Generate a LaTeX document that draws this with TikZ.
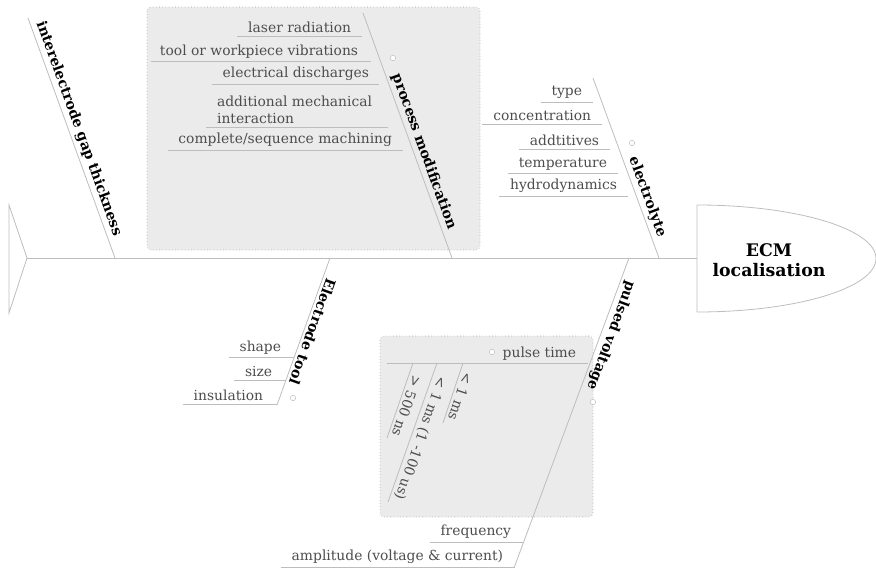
\documentclass[tikz,border=0pt]{standalone}
\usepackage{fontspec}
\setmainfont{DejaVu Serif}
\usetikzlibrary{calc}
\definecolor{linegray}{HTML}{BDBDBD}
\definecolor{textgray}{HTML}{4D4D4D}
\definecolor{boxfill}{HTML}{EBEBEB}
\definecolor{boxline}{HTML}{9A9A9A}
\begin{document}
\begin{tikzpicture}[x=0.75pt,y=-0.75pt,
  bone/.style={draw=linegray, line width=0.6pt},
  mainlbl/.style={font=\bfseries\fontsize{10.6}{12}\selectfont, text=black, inner sep=2pt},
  sublbl/.style={font=\fontsize{10.4}{13.4}\selectfont, text=textgray, inner sep=2pt, anchor=south east},
  pin/.style={circle, draw=linegray, fill=white, inner sep=0pt, minimum size=4pt},
  group/.style={draw=boxline, dotted, fill=boxfill, rounded corners=3pt},
]
\useasboundingbox (0,0) rectangle (876,568);

% group boxes
\draw[group] (147,7) rectangle (480,250);
\draw[group] (380,336) rectangle (593,517);

% tail
\coordinate (t1) at (9,205);
\coordinate (t2) at (9,313);
\coordinate (tail) at (27,258);
\draw[bone] (t1) -- (tail) -- (t2) -- cycle;

% head
\coordinate (h) at (697,258);
\coordinate (htop) at (697,205);
\coordinate (hbot) at (697,312);
\draw[bone] (hbot) -- (htop) arc[start angle=-90, end angle=90, x radius=179, y radius=53.5];
\node[font=\bfseries\fontsize{13}{15}\selectfont, align=center, text=black] (ecm) at (769,260) {ECM\\localisation};

% spine
\draw[bone] (tail) -- (h);

% main bones
\coordinate (ig1) at (28,18);   \coordinate (ig0) at (115,258);
\coordinate (pm1) at (363,13);  \coordinate (pm0) at (452,258);
\coordinate (el1) at (593,78);  \coordinate (el0) at (659,258);
\coordinate (et0) at (330,258); \coordinate (et1) at (277,405);
\coordinate (pv0) at (629,258); \coordinate (pv1) at (514,568);

\draw[bone] (ig1) -- (ig0) node[mainlbl, pos=0.475, sloped, above] (igl) {interelectrode gap thickness};
\draw[bone] (pm1) -- (pm0) node[mainlbl, pos=0.58, sloped, above] (pml) {process modification};
\draw[bone] (el1) -- (el0) node[mainlbl, pos=0.68, sloped, above] (ell) {electrolyte};
\draw[bone] (et0) -- (et1) node[mainlbl, pos=0.48, sloped, allow upside down, above] (etl) {Electrode tool};
\draw[bone] (pv0) -- (pv1) node[mainlbl, pos=0.24, sloped, allow upside down, above] (pvl) {pulsed voltage};

% pins
\node[pin] (pmpin) at (393,58) {};
\node[pin] (elpin) at (632,143) {};
\node[pin] (etpin) at (293,398) {};
\node[pin] (pvpin) at (593,402) {};
\node[pin] (ptpin) at (492,352) {};

% process modification causes
\coordinate (pa) at (362,36);
\coordinate (pb) at (371,61);
\coordinate (pc) at (379,84);
\coordinate (pd) at (388,127);
\coordinate (pe) at (403,150);
\node[sublbl] (pal) at ($(pa)+(-8,0)$) {laser radiation};
\node[sublbl] (pbl) at ($(pb)+(-10,0)$) {tool or workpiece vibrations};
\node[sublbl] (pcl) at ($(pc)+(-7,0)$) {electrical discharges};
\node[sublbl, align=left] (pdl) at ($(pd)+(-13,0)$) {additional mechanical\\interaction};
\node[sublbl] (pel) at ($(pe)+(-8,0)$) {complete/sequence machining};
\draw[bone] ($(pal.south west)+(-8,0)$) -- (pa);
\draw[bone] ($(pbl.south west)+(-6,0)$) -- (pb);
\draw[bone] ($(pcl.south west)+(-8,0)$) -- (pc);
\draw[bone] ($(pdl.south west)+(-8,0)$) -- (pd);
\draw[bone] ($(pel.south west)+(-8,0)$) -- (pe);

% electrolyte causes
\coordinate (ea) at (593,102);
\coordinate (eb) at (602,124);
\coordinate (ec) at (610,149);
\coordinate (ed) at (618,173);
\coordinate (ee) at (628,196);
\node[sublbl] (eal) at ($(ea)+(-8,0)$) {type};
\node[sublbl] (ebl) at ($(eb)+(-8,0)$) {concentration};
\node[sublbl] (ecl) at ($(ec)+(-8,0)$) {addtitives};
\node[sublbl] (edl) at ($(ed)+(-8,0)$) {temperature};
\node[sublbl] (eel) at ($(ee)+(-8,0)$) {hydrodynamics};
\draw[bone] ($(eal.south west)+(-8,0)$) -- (ea);
\draw[bone] ($(ebl.south west)+(-8,0)$) -- (eb);
\draw[bone] ($(ecl.south west)+(-8,0)$) -- (ec);
\draw[bone] ($(edl.south west)+(-8,0)$) -- (ed);
\draw[bone] ($(eel.south west)+(-8,0)$) -- (ee);

% electrode tool causes
\coordinate (ta) at (294,357);
\coordinate (tb) at (286,380);
\coordinate (tc) at (277,404);
\node[sublbl] (tal) at ($(ta)+(-10,0)$) {shape};
\node[sublbl] (tbl) at ($(tb)+(-11,0)$) {size};
\node[sublbl] (tcl) at ($(tc)+(-11,0)$) {insulation};
\draw[bone] ($(tal.south west)+(-8,0)$) -- (ta);
\draw[bone] ($(tbl.south west)+(-8,0)$) -- (tb);
\draw[bone] ($(tcl.south west)+(-8,0)$) -- (tc);

% pulsed voltage causes
\coordinate (va) at (523,542);
\coordinate (vb) at (515,567);
\node[sublbl] (val) at ($(va)+(-9,0)$) {frequency};
\node[sublbl] (vbl) at ($(vb)+(-9,0)$) {amplitude (voltage \& current)};
\draw[bone] ($(val.south west)+(-8,0)$) -- (va);
\draw[bone] ($(vbl.south west)+(-8,0)$) -- (vb);

% pulse time
\coordinate (pt0) at (588,363);
\coordinate (pt1) at (387,363);
\draw[bone] (pt1) -- (pt0);
\node[sublbl] (ptl) at ($(pt0)+(-9,0)$) {pulse time};

\coordinate (s1a) at (413,363); \coordinate (s1b) at (387,438);
\coordinate (s2a) at (437,363); \coordinate (s2b) at (388,502);
\coordinate (s3a) at (463,363); \coordinate (s3b) at (443,423);
\draw[bone] (s1a) -- (s1b) node[sublbl, anchor=south, pos=0.54, sloped, allow upside down] (s1l) {> 500 ns};
\draw[bone] (s2a) -- (s2b) node[sublbl, anchor=south, pos=0.52, sloped, allow upside down] (s2l) {< 1 ms (1 -100 us)};
\draw[bone] (s3a) -- (s3b) node[sublbl, anchor=south, pos=0.52, sloped, allow upside down] (s3l) {< 1 ms};
\end{tikzpicture}
\end{document}
